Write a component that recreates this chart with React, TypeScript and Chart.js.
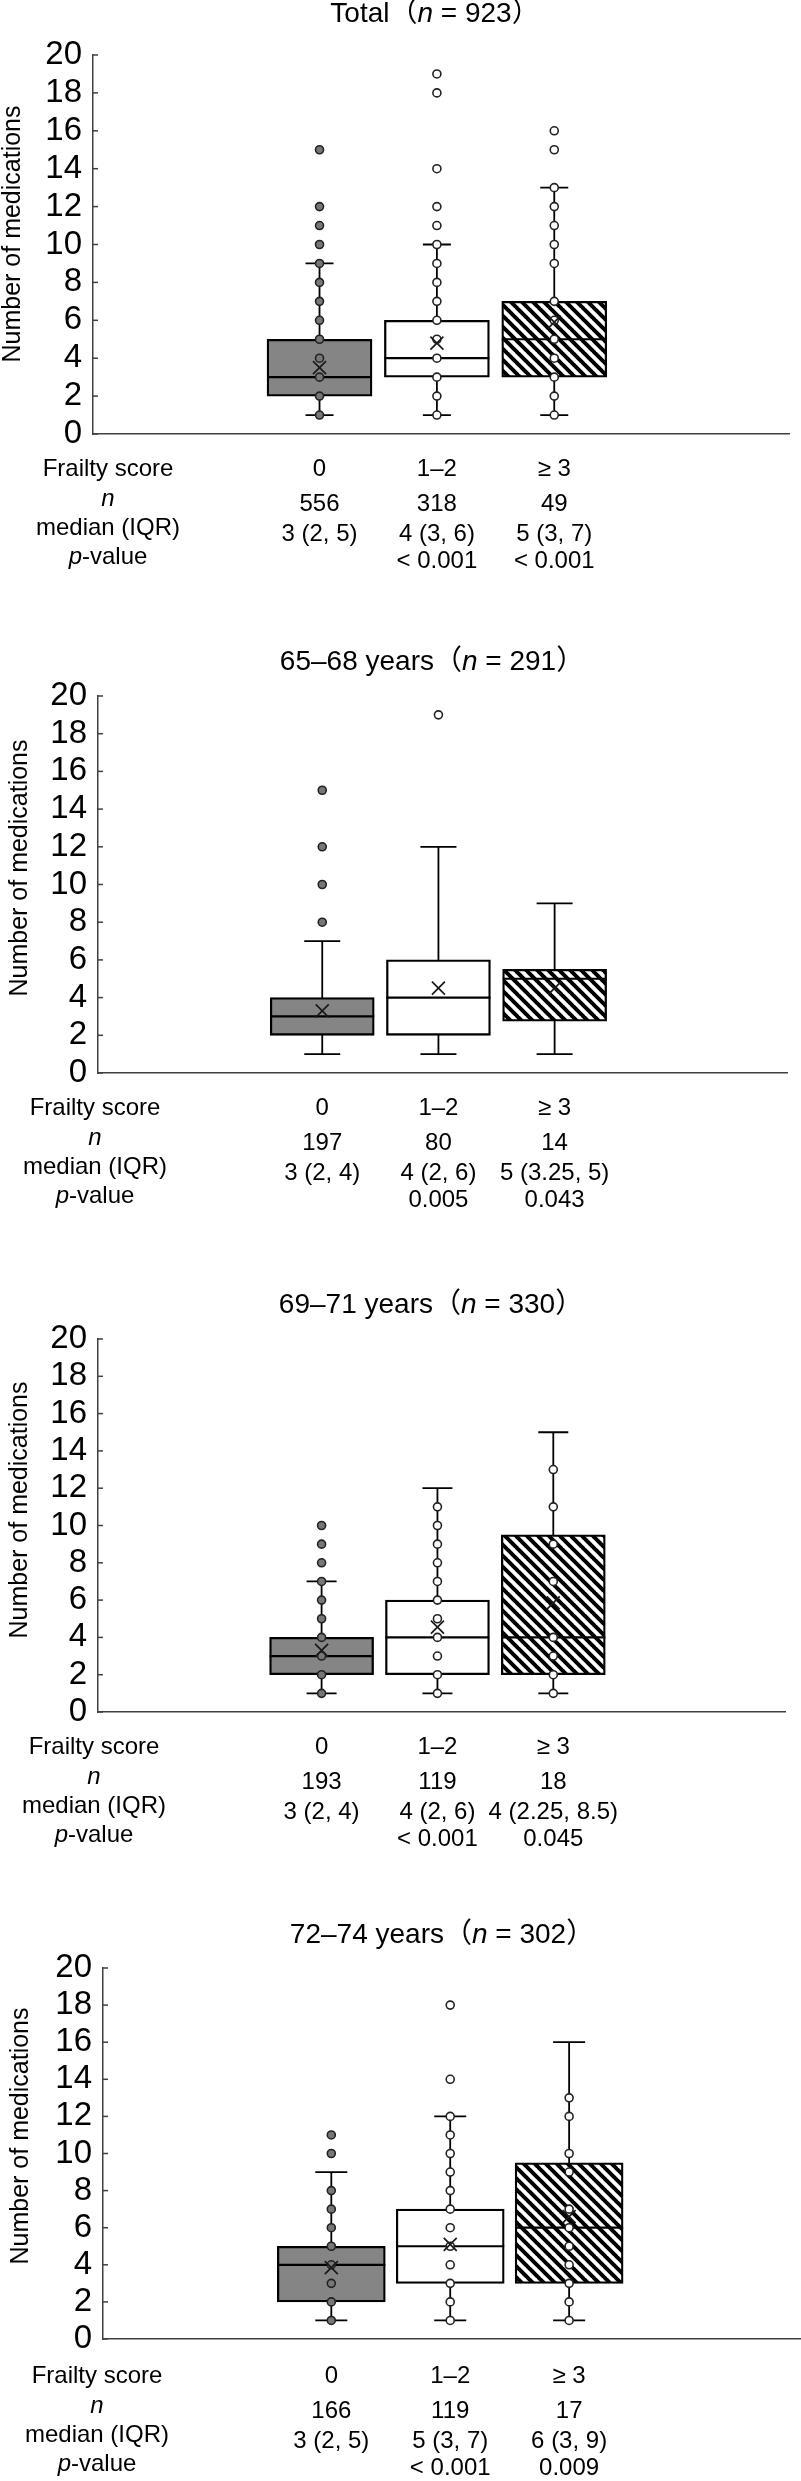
import React, { useEffect, useRef } from "react";
import { Chart, registerables } from "chart.js";

Chart.register(...registerables);

const FONT = '"Liberation Sans", Arial, "Noto Sans CJK JP", sans-serif';

// ---------- shared labels ----------
const frailtyGroups = ["0", "1–2", "≥ 3"];

// ---------- Total (n = 923) ----------
const totalTitle = "Total";
const totalCount = "923";
const totalMin = [1, 1, 1];
const totalQ1 = [2, 3, 3];
const totalMedian = [3, 4, 5];
const totalQ3 = [5, 6, 7];
const totalMax = [9, 10, 13];
const totalMean = [3.5, 4.8, 5.9];
const totalPoints0 = [1, 2, 3, 4, 5, 6, 7, 8, 9, 10, 11, 12, 15];
const totalPoints1 = [1, 2, 3, 4, 5, 6, 7, 8, 9, 10, 11, 12, 14, 18, 19];
const totalPoints2 = [1, 2, 3, 4, 5, 6, 7, 9, 10, 11, 12, 13, 15, 16];
const totalN = ["556", "318", "49"];
const totalIQR = ["3 (2, 5)", "4 (3, 6)", "5 (3, 7)"];
const totalP = ["", "< 0.001", "< 0.001"];

// ---------- 65–68 years (n = 291) ----------
const a65Title = "65–68 years";
const a65Count = "291";
const a65Min = [1, 1, 1];
const a65Q1 = [2, 2, 2.75];
const a65Median = [3, 4, 5];
const a65Q3 = [4, 6, 5.5];
const a65Max = [7, 12, 9];
const a65Mean = [3.3, 4.5, 4.5];
const a65Points0 = [8, 10, 12, 15];
const a65Points1 = [19];
const a65Points2: number[] = [];
const a65N = ["197", "80", "14"];
const a65IQR = ["3 (2, 4)", "4 (2, 6)", "5 (3.25, 5)"];
const a65P = ["", "0.005", "0.043"];

// ---------- 69–71 years (n = 330) ----------
const a69Title = "69–71 years";
const a69Count = "330";
const a69Min = [1, 1, 1];
const a69Q1 = [2, 2, 2];
const a69Median = [3, 4, 4];
const a69Q3 = [4, 6, 9.5];
const a69Max = [7, 12, 15];
const a69Mean = [3.3, 4.55, 5.85];
const a69Points0 = [1, 2, 3, 4, 5, 6, 7, 8, 9, 10];
const a69Points1 = [1, 2, 3, 4, 5, 6, 7, 8, 9, 10, 11];
const a69Points2 = [1, 2, 3, 4, 7, 9, 11, 13];
const a69N = ["193", "119", "18"];
const a69IQR = ["3 (2, 4)", "4 (2, 6)", "4 (2.25, 8.5)"];
const a69P = ["", "< 0.001", "0.045"];

// ---------- 72–74 years (n = 302) ----------
const a72Title = "72–74 years";
const a72Count = "302";
const a72Min = [1, 1, 1];
const a72Q1 = [2, 3, 3];
const a72Median = [4, 5, 6];
const a72Q3 = [5, 7, 9.5];
const a72Max = [9, 12, 16];
const a72Mean = [3.85, 5.1, 6.6];
const a72Points0 = [1, 2, 3, 4, 5, 6, 7, 8, 10, 11];
const a72Points1 = [1, 2, 3, 4, 5, 6, 7, 8, 9, 10, 11, 12, 14, 18];
const a72Points2 = [1, 2, 3, 4, 5, 6, 7, 9, 10, 12, 13];
const a72N = ["166", "119", "17"];
const a72IQR = ["3 (2, 5)", "5 (3, 7)", "6 (3, 9)"];
const a72P = ["", "< 0.001", "0.009"];

const yTicksMin = 0;
const yTicksMax = 20;
const yTicksStep = 2;

const PANELS = [
  { title: totalTitle, count: totalCount, min: totalMin, q1: totalQ1, med: totalMedian, q3: totalQ3, max: totalMax, mean: totalMean, points: [totalPoints0, totalPoints1, totalPoints2], n: totalN, iqr: totalIQR, p: totalP },
  { title: a65Title, count: a65Count, min: a65Min, q1: a65Q1, med: a65Median, q3: a65Q3, max: a65Max, mean: a65Mean, points: [a65Points0, a65Points1, a65Points2], n: a65N, iqr: a65IQR, p: a65P },
  { title: a69Title, count: a69Count, min: a69Min, q1: a69Q1, med: a69Median, q3: a69Q3, max: a69Max, mean: a69Mean, points: [a69Points0, a69Points1, a69Points2], n: a69N, iqr: a69IQR, p: a69P },
  { title: a72Title, count: a72Count, min: a72Min, q1: a72Q1, med: a72Median, q3: a72Q3, max: a72Max, mean: a72Mean, points: [a72Points0, a72Points1, a72Points2], n: a72N, iqr: a72IQR, p: a72P },
];

// ---------- layout (positions / sizes, per panel) ----------
const LAYOUTS = [
  { top: 0, height: 620, titleX: 435, titleY: 14, plotTop: 55, plotBottom: 434, axisLeft: 93, axisRight: 789, xMin: -0.93, xMax: 5, barW: 105, cap: 14, yTitleX: 13, yTitleY: 234, tableY: 469, labelX: 108 },
  { top: 620, height: 620, titleX: 432, titleY: 42, plotTop: 76, plotBottom: 453, axisLeft: 98, axisRight: 787, xMin: -0.93, xMax: 5, barW: 104, cap: 18, yTitleX: 20, yTitleY: 248, tableY: 488, labelX: 95 },
  { top: 1240, height: 620, titleX: 431, titleY: 65, plotTop: 99, plotBottom: 472, axisLeft: 98, axisRight: 785, xMin: -0.93, xMax: 5, barW: 104, cap: 15, yTitleX: 20, yTitleY: 270, tableY: 507, labelX: 94 },
  { top: 1860, height: 621, titleX: 442, titleY: 75, plotTop: 108, plotBottom: 479, axisLeft: 103, axisRight: 801, xMin: -0.92, xMax: 4.95, barW: 108, cap: 16, yTitleX: 21, yTitleY: 276, tableY: 516, labelX: 97 },
];

const W = 801;
const BOX_GREY = "#858585";
const POINT_GREY = "#777777";
const AXIS_COLOR = "#404040";
const TICK_FONT = 33;
const TITLE_FONT = 28;
const TABLE_FONT = 24;
const YTITLE_FONT = 25;

type Seg = [string, boolean];

function drawRich(ctx: CanvasRenderingContext2D, segs: Seg[], cx: number, cy: number, size: number) {
  const widths: number[] = [];
  let total = 0;
  segs.forEach(([t, it]) => {
    ctx.font = `${it ? "italic " : ""}${size}px ${FONT}`;
    const w = ctx.measureText(t).width;
    widths.push(w);
    total += w;
  });
  let xx = cx - total / 2;
  ctx.textAlign = "left";
  ctx.textBaseline = "middle";
  segs.forEach(([t, it], k) => {
    ctx.font = `${it ? "italic " : ""}${size}px ${FONT}`;
    ctx.fillText(t, xx, cy);
    xx += widths[k];
  });
}

function makeHatch(): CanvasPattern | string {
  const s = 11;
  const c = document.createElement("canvas");
  c.width = s;
  c.height = s;
  const g = c.getContext("2d");
  if (!g) return "#fff";
  g.fillStyle = "#fff";
  g.fillRect(0, 0, s, s);
  g.strokeStyle = "#000";
  g.lineWidth = 4;
  g.beginPath();
  for (const k of [-s, 0, s]) {
    g.moveTo(k - 1, -1);
    g.lineTo(k + s + 1, s + 1);
  }
  g.stroke();
  const p = g.createPattern(c, "repeat");
  return p || "#fff";
}

function Panel({ idx }: { idx: number }) {
  const ref = useRef<HTMLCanvasElement>(null);
  const L = LAYOUTS[idx];

  useEffect(() => {
    const D = PANELS[idx];
    const canvas = ref.current;
    if (!canvas) return;
    const hatch = makeHatch();

    const boxes = D.q1.map((q, i) => ({ x: i + 1, y: [q, D.q3[i]] }));
    const pts: { x: number; y: number }[] = [];
    const ptColors: string[] = [];
    D.points.forEach((arr, g) =>
      arr.forEach((v) => {
        pts.push({ x: g + 1, y: v });
        ptColors.push(g === 0 ? POINT_GREY : "#ffffff");
      })
    );

    const plugin = {
      id: "boxplotExtras" + idx,
      beforeDatasetsDraw(chart: any) {
        const { ctx, scales } = chart;
        const xs = scales.x, ys = scales.y;
        ctx.save();
        ctx.strokeStyle = "#000";
        ctx.lineWidth = 1.8;
        D.min.forEach((mn, i) => {
          const cx = xs.getPixelForValue(i + 1);
          const y0 = ys.getPixelForValue(mn);
          const y1 = ys.getPixelForValue(D.max[i]);
          ctx.beginPath();
          ctx.moveTo(cx, y0);
          ctx.lineTo(cx, y1);
          ctx.moveTo(cx - L.cap, y0);
          ctx.lineTo(cx + L.cap, y0);
          ctx.moveTo(cx - L.cap, y1);
          ctx.lineTo(cx + L.cap, y1);
          ctx.stroke();
        });
        ctx.restore();
      },
      afterDatasetDraw(chart: any, args: any) {
        if (args.index !== 0) return;
        const { ctx, scales } = chart;
        const xs = scales.x, ys = scales.y;
        ctx.save();
        ctx.strokeStyle = "#000";
        ctx.lineWidth = 2.2;
        D.med.forEach((m, i) => {
          const cx = xs.getPixelForValue(i + 1);
          const yy = ys.getPixelForValue(m);
          ctx.beginPath();
          ctx.moveTo(cx - L.barW / 2, yy);
          ctx.lineTo(cx + L.barW / 2, yy);
          ctx.stroke();
        });
        ctx.restore();
      },
      afterDatasetsDraw(chart: any) {
        const { ctx, scales, chartArea } = chart;
        const xs = scales.x, ys = scales.y;
        ctx.save();
        ctx.strokeStyle = "#1a1a1a";
        ctx.lineWidth = 1.7;
        D.mean.forEach((m, i) => {
          const cx = xs.getPixelForValue(i + 1);
          const yy = ys.getPixelForValue(m);
          const h = 6.5;
          ctx.beginPath();
          ctx.moveTo(cx - h, yy - h);
          ctx.lineTo(cx + h, yy + h);
          ctx.moveTo(cx + h, yy - h);
          ctx.lineTo(cx - h, yy + h);
          ctx.stroke();
        });
        // inside tick marks on the value axis
        ctx.strokeStyle = AXIS_COLOR;
        ctx.lineWidth = 1.5;
        ys.ticks.forEach((t: any) => {
          const yy = ys.getPixelForValue(t.value);
          ctx.beginPath();
          ctx.moveTo(chartArea.left, yy);
          ctx.lineTo(chartArea.left + 5, yy);
          ctx.stroke();
        });
        ctx.restore();
      },
      afterDraw(chart: any) {
        const { ctx, scales } = chart;
        const xs = scales.x;
        ctx.save();
        ctx.fillStyle = "#000";
        // title
        drawRich(ctx, [[D.title + "（", false], ["n", true], [" = " + D.count + "）", false]], L.titleX, L.titleY, TITLE_FONT);
        // y-axis title
        ctx.save();
        ctx.translate(L.yTitleX, L.yTitleY);
        ctx.rotate(-Math.PI / 2);
        drawRich(ctx, [["Number of medications", false]], 0, 0, YTITLE_FONT);
        ctx.restore();
        // table labels
        const F = L.tableY;
        drawRich(ctx, [["Frailty score", false]], L.labelX, F, TABLE_FONT);
        drawRich(ctx, [["n", true]], L.labelX, F + 30, TABLE_FONT);
        drawRich(ctx, [["median (IQR)", false]], L.labelX, F + 59, TABLE_FONT);
        drawRich(ctx, [["p", true], ["-value", false]], L.labelX, F + 88, TABLE_FONT);
        // table values
        frailtyGroups.forEach((g, i) => {
          const cx = xs.getPixelForValue(i + 1);
          drawRich(ctx, [[g, false]], cx, F, TABLE_FONT);
          drawRich(ctx, [[D.n[i], false]], cx, F + 35, TABLE_FONT);
          drawRich(ctx, [[D.iqr[i], false]], cx, F + 65, TABLE_FONT);
          if (D.p[i]) drawRich(ctx, [[D.p[i], false]], cx, F + 92, TABLE_FONT);
        });
        ctx.restore();
      },
    };

    const chart = new Chart(canvas, {
      type: "bar",
      data: {
        datasets: [
          {
            type: "bar",
            data: boxes as any,
            backgroundColor: [BOX_GREY, "#ffffff", hatch as any],
            borderColor: "#000",
            borderWidth: 2.3,
            borderSkipped: false,
            barThickness: L.barW,
            order: 2,
          } as any,
          {
            type: "scatter",
            data: pts,
            pointRadius: 4,
            pointBorderWidth: 1.6,
            pointBackgroundColor: ptColors,
            pointBorderColor: "#222",
            showLine: false,
            order: 1,
          } as any,
        ],
      },
      options: {
        responsive: false,
        animation: false,
        devicePixelRatio: 1,
        events: [],
        layout: {
          autoPadding: false,
          padding: { top: L.plotTop, bottom: L.height - L.plotBottom, left: 0, right: W - L.axisRight },
        } as any,
        plugins: { legend: { display: false }, tooltip: { enabled: false }, title: { display: false } },
        scales: {
          x: {
            type: "linear",
            min: L.xMin,
            max: L.xMax,
            offset: false,
            ticks: { display: false },
            grid: { display: false, drawTicks: false },
            border: { display: true, color: AXIS_COLOR, width: 1.5 },
            afterFit: (s: any) => {
              s.height = 0;
            },
          },
          y: {
            type: "linear",
            min: yTicksMin,
            max: yTicksMax,
            ticks: {
              stepSize: yTicksStep,
              autoSkip: false,
              color: "#000",
              padding: 11,
              font: { family: FONT, size: TICK_FONT },
            },
            grid: { display: false, drawTicks: false },
            border: { display: true, color: AXIS_COLOR, width: 1.5 },
            afterFit: (s: any) => {
              s.width = L.axisLeft;
            },
          },
        },
      } as any,
      plugins: [plugin],
    });
    return () => chart.destroy();
  }, [idx]);

  return (
    <canvas
      ref={ref}
      width={W}
      height={L.height}
      style={{ position: "absolute", left: 0, top: L.top, display: "block" }}
    />
  );
}

export default function App() {
  useEffect(() => {
    document.body.style.margin = "0";
    document.body.style.background = "#fff";
  }, []);
  return (
    <div style={{ position: "relative", width: W, height: 2481, background: "#fff", overflow: "hidden" }}>
      {PANELS.map((_, i) => (
        <Panel key={i} idx={i} />
      ))}
    </div>
  );
}
